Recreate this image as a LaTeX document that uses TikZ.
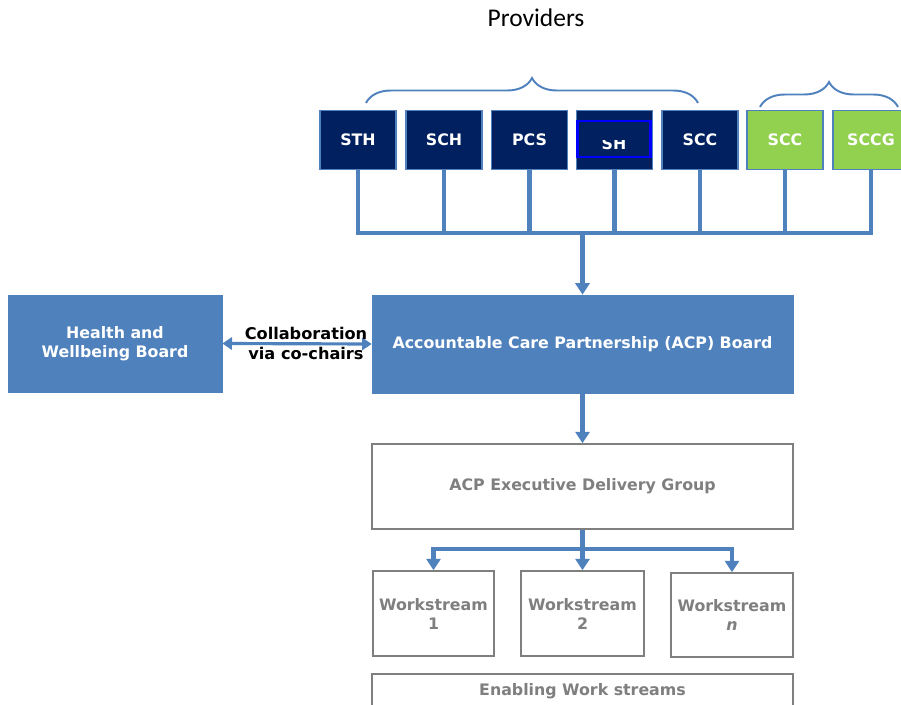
\documentclass[tikz,border=0pt]{standalone}
\usepackage{fontspec}
\newfontfamily\boxfont{DejaVu Sans}
\newfontfamily\calfont{Carlito}
\usetikzlibrary{arrows.meta,positioning,calc}
\usetikzlibrary{decorations.pathreplacing}
\definecolor{navy}{HTML}{002060}
\definecolor{acpblue}{HTML}{4F81BD}
\definecolor{provgreen}{HTML}{92D050}
\definecolor{greytext}{HTML}{7F7F7F}

\begin{document}
\begin{tikzpicture}[x=0.02cm,y=-0.02cm,>={Triangle[width=8pt,length=6.5pt]}]
  \tikzset{
  boxnode/.style = {align=center, inner sep=0pt, text centered,
    font=\boxfont\bfseries\fontsize{9}{10.8}\selectfont},
  prov_n/.style = {boxnode, rectangle, white, fill=navy, draw=acpblue,
    line width=0.9pt, minimum width=1.52cm, minimum height=1.18cm},% provider, navy
  prov_g/.style = {prov_n, fill=provgreen},% provider, green
  board/.style = {boxnode, rectangle, white, fill=acpblue, draw=acpblue},% board
  group/.style = {boxnode, rectangle, greytext, fill=white, draw=greytext,
    line width=0.9pt},% delivery group / workstreams
  link/.style = {draw=acpblue, line width=2.4pt},
  bracket/.style = {draw=acpblue, line width=1.1pt, decorate,
    decoration={brace, amplitude=0.5cm}}
}
\useasboundingbox (0,0) rectangle (901,705);

\node [font=\calfont\fontsize{14.5}{17}\selectfont] (prov) at (536,18) {Providers};

% providers
\node [prov_n] (sth) at (358,140) {STH};
\node [prov_n] (sch) at (444,140) {SCH};
\node [prov_n] (pcs) at (529.5,140) {PCS};
\node [prov_n] (sh) at (614.5,140) {};
\node [prov_n] (scc) at (700,140) {SCC};
\node [prov_g] (sccb) at (785,140) {SCC};
\node [prov_g] (sccg) at (871,140) {SCCG};
\node [draw=blue, line width=1.2pt, minimum width=1.46cm,
  minimum height=0.72cm] (shbox) at (614,139) {};
\begin{scope}
  \clip (578,141) rectangle (650,155);
  \node [boxnode, white] (shtext) at (614,143.5) {SH};
\end{scope}

\draw [bracket] (366,103) -- (698,103);
\draw [bracket] (760,107) -- (898,107);

% boards
\node [board, minimum width=4.28cm, minimum height=1.94cm] (hwb) at (115,343.5)
  {Health and\\Wellbeing Board};
\node [board, minimum width=8.42cm, minimum height=1.96cm] (acp) at (582.5,344)
  {Accountable Care Partnership (ACP) Board};
\node [group, minimum width=8.42cm, minimum height=1.7cm] (exec) at (582.5,486.5)
  {ACP Executive Delivery Group};
\node [group, minimum width=2.42cm, minimum height=1.7cm] (ws1) at (433.5,613.5)
  {Workstream\\1};
\node [group, minimum width=2.46cm, minimum height=1.7cm] (ws2) at (582.5,613.5)
  {Workstream\\2};
\node [group, minimum width=2.44cm, minimum height=1.68cm] (wsn) at (732,615)
  {Workstream\\\textit{n}};
\node [group, minimum width=8.42cm, minimum height=0.68cm] (enab) at (582.5,691)
  {Enabling Work streams};

% connectors
\coordinate (bus) at (582.5,233);
\coordinate (split) at (582.5,549);
\draw [link] (sth.south) |- (bus) -| (sccg.south);
\foreach \p in {sch,pcs,sh,scc,sccb}
  \draw [link] (\p.south) -- (\p.south |- bus);
\draw [link,->] (bus) -- (acp.north);
\draw [link,->] (acp.south) -- (exec.north);
\draw [link] (exec.south) -- (split);
\draw [link,->] (split) -| (ws1.north);
\draw [link,->] (split) -| (wsn.north);
\draw [link,->] (split) -- (ws2.north);
\draw [link, line width=1.8pt, <->, >={Triangle[width=7pt,length=5.5pt]}]
  (hwb.east) -- (acp.west)
  node [pos=0.56, boxnode, black, font=\boxfont\bfseries\fontsize{9.2}{11.3}\selectfont]
  (collab) {Collaboration\\via co-chairs};
\end{tikzpicture}
\end{document}
